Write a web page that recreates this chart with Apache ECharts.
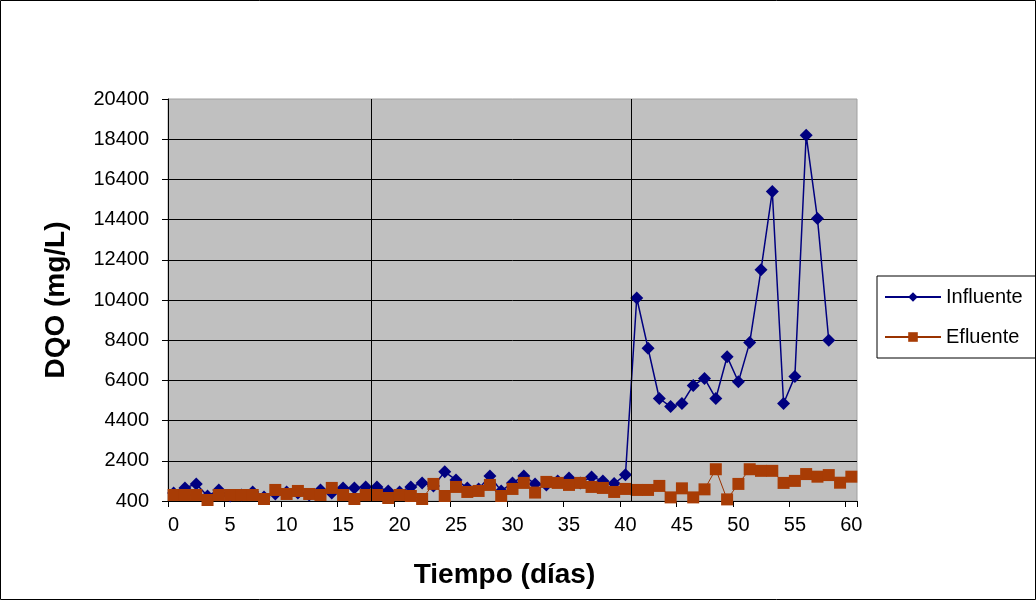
<!DOCTYPE html>
<html>
<head>
<meta charset="utf-8">
<script src="https://cdn.jsdelivr.net/npm/echarts@6/dist/echarts.min.js"></script>
<style>
html,body{margin:0;padding:0;background:#fff;}
#c{width:1036px;height:600px;}
</style>
</head>
<body>
<div id="c"></div>
<script>
var categories = ['0','1','2','3','4','5','6','7','8','9','10','11','12','13','14','15','16','17','18','19','20',
  '21','22','23','24','25','26','27','28','29','30','31','32','33','34','35','36','37','38','39','40',
  '41','42','43','44','45','46','47','48','49','50','51','52','53','54','55','56','57','58','59','60'];

var influente = [800,1050,1250,650,950,650,700,850,600,750,
  850,800,700,950,800,1050,1050,1100,1100,900,
  850,1100,1300,1150,1850,1450,1050,1000,1650,900,
  1300,1650,1250,1200,1400,1550,1300,1600,1400,1270,
  1700,10500,8000,5500,5100,5250,6150,6500,5500,7580,
  6330,8280,11900,15800,5250,6600,18600,14450,8400,null,null];

var efluente = [700,700,700,450,700,700,700,700,500,950,
  750,900,750,700,1050,700,500,700,700,550,
  700,650,500,1250,650,1100,850,900,1200,650,
  1000,1300,820,1350,1300,1200,1300,1100,1050,850,
  1000,950,950,1150,580,1030,580,980,1980,480,
  1250,1980,1900,1900,1300,1400,1740,1610,1690,1310,1610];

var phaseBounds = [18, 41];
var yMin = 400, yMax = 20400, yStep = 2000;

var chart = echarts.init(document.getElementById('c'), null, {renderer:'canvas'});
var font = 'Liberation Sans, Arial, sans-serif';
chart.setOption({
  animation: false,
  backgroundColor: '#fff',
  textStyle: {fontFamily: font},
  graphic: [{
    type: 'rect', z: 100, silent: true,
    shape: {x: 0.5, y: 0.5, width: 1035, height: 599},
    style: {fill: 'none', stroke: '#000', lineWidth: 1}
  }],
  grid: {left: 168, right: 179, top: 99, bottom: 99, show: true,
    backgroundColor: '#C0C0C0', borderColor: '#A0A0A0', borderWidth: 1},
  legend: {
    orient: 'vertical', left: 877, top: 276,
    padding: [11, 30, 11, 7], itemGap: 20,
    itemWidth: 56, itemHeight: 12,
    borderColor: '#000', borderWidth: 1, backgroundColor: '#fff',
    textStyle: {fontSize: 20, color: '#000', fontFamily: font},
    data: ['Influente', 'Efluente']
  },
  xAxis: [{
    type: 'category', data: categories, boundaryGap: true,
    name: 'Tiempo (días)', nameLocation: 'middle', nameGap: 60,
    nameTextStyle: {fontSize: 28, fontWeight: 'bold', color: '#000', fontFamily: font,
      padding: [0, 16, 0, 0]},
    axisLine: {lineStyle: {color: '#000', width: 1}},
    axisTick: {show: true, interval: 4, length: 6, lineStyle: {color: '#000'}},
    axisLabel: {interval: 4, fontSize: 20, color: '#000', margin: 14, fontFamily: font},
    splitLine: {show: false}
  }, {
    type: 'value', min: 0, max: categories.length, show: false
  }],
  yAxis: {
    type: 'value', min: yMin, max: yMax, interval: yStep,
    name: 'DQO (mg/L)', nameLocation: 'middle', nameGap: 98, nameRotate: 90,
    nameTextStyle: {fontSize: 28, fontWeight: 'bold', color: '#000', fontFamily: font},
    axisLine: {show: true, lineStyle: {color: '#000', width: 1}},
    axisTick: {show: true, length: 6, lineStyle: {color: '#000'}},
    axisLabel: {fontSize: 20, color: '#000', margin: 19, fontFamily: font,
      formatter: function (v) { return String(v); }},
    splitLine: {show: true, showMaxLine: false, lineStyle: {color: '#000', width: 1}}
  },
  series: [{
    name: 'phases', type: 'line', xAxisIndex: 1, data: [], silent: true,
    markLine: {
      silent: true, symbol: 'none', label: {show: false},
      lineStyle: {color: '#000', width: 1, type: 'solid'},
      data: phaseBounds.map(function (b) { return {xAxis: b}; })
    }
  }, {
    name: 'Influente', type: 'line', data: influente,
    symbol: 'diamond', symbolSize: 13, showAllSymbol: true, connectNulls: false,
    itemStyle: {color: '#000080'},
    lineStyle: {color: '#000080', width: 1.5}
  }, {
    name: 'Efluente', type: 'line', data: efluente,
    symbol: 'rect', symbolSize: 12, showAllSymbol: true,
    itemStyle: {color: '#A83C05'},
    lineStyle: {color: '#993300', width: 1}
  }]
});
</script>
</body>
</html>
